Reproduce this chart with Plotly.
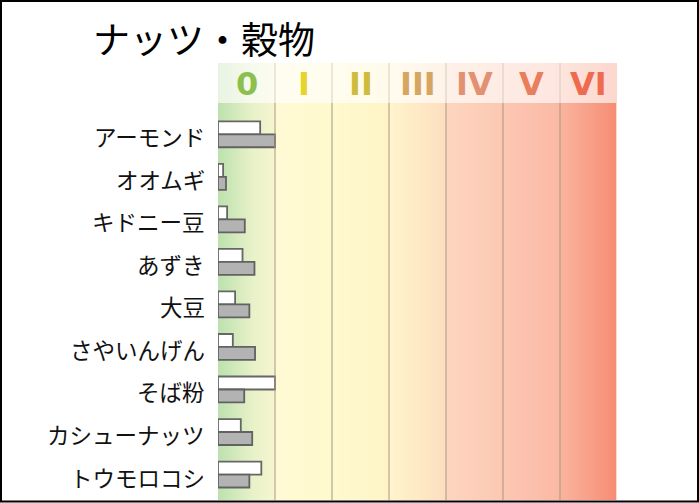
import plotly.graph_objects as go
import numpy as np

# ---- data ----
categories = ["アーモンド", "オオムギ", "キドニー豆", "あずき", "大豆",
              "さやいんげん", "そば粉", "カシューナッツ", "トウモロコシ"]
white_values = [0.74, 0.09, 0.16, 0.43, 0.30, 0.26, 1.00, 0.40, 0.76]
gray_values = [1.00, 0.14, 0.47, 0.64, 0.55, 0.65, 0.46, 0.60, 0.55]
levels = ["0", "I", "II", "III", "IV", "V", "VI"]
level_colors = ["#8cc04e", "#e6d42a", "#cfbc3e", "#d6a562", "#e29272", "#e97e5c", "#ef6a4e"]

# column background gradients (left colour, right colour)
col_grad = [
    ((188, 225, 174), (246, 246, 208)),
    ((255, 250, 212), (255, 249, 206)),
    ((255, 249, 207), (254, 244, 199)),
    ((255, 245, 205), (253, 222, 190)),
    ((253, 214, 192), (252, 200, 177)),
    ((252, 199, 180), (251, 185, 163)),
    ((250, 180, 158), (246, 140, 116)),
]

W, H = 699, 503
L, R, T, B = 218, 617, 63, 500
HEAD = 40

def rgb(c):
    return "rgb(%d,%d,%d)" % tuple(int(round(v)) for v in c)

def lighten(c, f):
    return tuple(255 - (255 - v) * f for v in c)

def make_scale(fac):
    n = len(col_grad)
    sc = []
    for k, (a, b) in enumerate(col_grad):
        a2, b2 = lighten(a, fac), lighten(b, fac)
        sc.append([k / n, rgb(a2)])
        if k == 0:
            mid = tuple(a2[i] + (b2[i] - a2[i]) * 0.75 for i in range(3))
            sc.append([(k + 0.6) / n, rgb(mid)])
        sc.append([(k + 1) / n - 1e-6 if k < n - 1 else 1.0, rgb(b2)])
    return sc

xs = np.linspace(0.005, 6.995, 700)
pos = list(range(len(categories)))

fig = go.Figure()
main_dom = [0, (B - T - HEAD) / (B - T)]
head_dom = [main_dom[1], 1]

fig.add_trace(go.Heatmap(x=xs, y=[-2, 10], z=[xs, xs], colorscale=make_scale(1.0),
                         zmin=0, zmax=7, showscale=False, hoverinfo="skip",
                         xaxis="x", yaxis="y"))
fig.add_trace(go.Heatmap(x=xs, y=[-1, 2], z=[xs, xs], colorscale=make_scale(0.35),
                         zmin=0, zmax=7, showscale=False, hoverinfo="skip",
                         xaxis="x", yaxis="y2"))

fig.add_trace(go.Bar(y=pos, x=white_values, orientation="h",
                     marker=dict(color="white", line=dict(color="#666666", width=1.8)),
                     hoverinfo="skip", yaxis="y"))
fig.add_trace(go.Bar(y=pos, x=gray_values, orientation="h",
                     marker=dict(color="#b3b3b3", line=dict(color="#626262", width=1.8)),
                     hoverinfo="skip", yaxis="y"))

spacing = 42.53
top_off = (134.3 - (T + HEAD)) / spacing
ymin = -top_off
ymax = ymin + (B - T - HEAD) / spacing

shapes = []
for k in range(1, 7):
    shapes.append(dict(type="line", xref="x", yref="y", x0=k, x1=k, y0=ymin, y1=ymax,
                       line=dict(color="rgba(170,150,130,0.5)", width=2), layer="above"))
    shapes.append(dict(type="line", xref="x", yref="y2", x0=k, x1=k, y0=0, y1=1,
                       line=dict(color="rgba(200,190,175,0.35)", width=2), layer="above"))
shapes.append(dict(type="line", xref="x", yref="y", x0=7, x1=7, y0=ymin, y1=ymax,
                   line=dict(color="rgba(255,235,230,0.8)", width=2), layer="above"))

# outer black frame
pw, ph = R - L, B - T
shapes.append(dict(type="rect", xref="paper", yref="paper",
                   x0=(1 - L) / pw, x1=(698 - L) / pw,
                   y0=(B - 501.5) / ph, y1=(B - 1) / ph,
                   line=dict(color="black", width=2), fillcolor="rgba(0,0,0,0)"))

annotations = []
for k, (lab, col) in enumerate(zip(levels, level_colors)):
    annotations.append(dict(x=k + 0.5, y=0.5, xref="x", yref="y2", text="<b>%s</b>" % lab,
                            showarrow=False, font=dict(family="DejaVu Sans", size=32, color=col),
                            xanchor="center", yanchor="middle", yshift=-1))
for p, name in zip(pos, categories):
    annotations.append(dict(x=0, y=p, xref="x", yref="y", text=name, showarrow=False,
                            xanchor="right", yanchor="middle", xshift=-11, yshift=-2,
                            font=dict(family="Noto Sans CJK JP", size=22.5, color="#111111")))

fig.update_layout(
    width=W, height=H,
    margin=dict(l=L, r=W - R, t=T, b=H - B, pad=0),
    paper_bgcolor="white", plot_bgcolor="white",
    barmode="group", bargap=0.39, bargroupgap=0,
    showlegend=False,
    title=dict(text="ナッツ・穀物", x=93 / W, xanchor="left", xref="container",
               y=1 - 41 / H, yanchor="middle", yref="container",
               font=dict(family="Noto Sans CJK JP", size=37, color="black")),
    xaxis=dict(range=[0, 7], visible=False, fixedrange=True),
    yaxis=dict(domain=main_dom, range=[ymax, ymin], visible=False),
    yaxis2=dict(domain=head_dom, range=[0, 1], visible=False, anchor="x"),
    shapes=shapes, annotations=annotations,
)

fig.write_html("out.html")
